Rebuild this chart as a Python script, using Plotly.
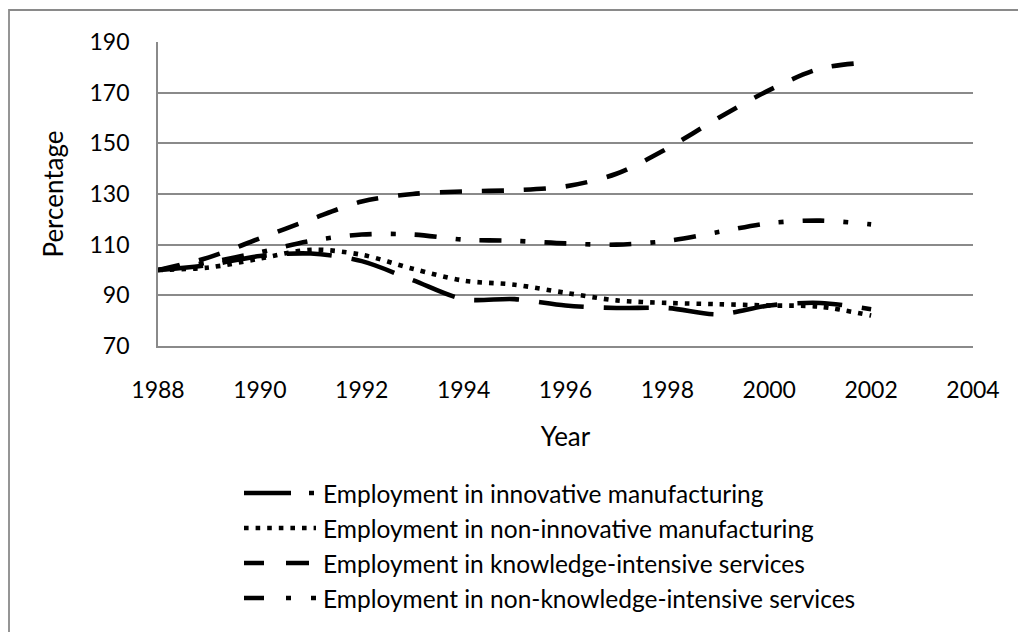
import plotly.graph_objects as go

# ---------------- data ----------------
years = [1988, 1989, 1990, 1991, 1992, 1993, 1994, 1995, 1996, 1997, 1998, 1999, 2000, 2001, 2002]
innovative_mfg = [100, 102, 105.5, 106.5, 103.5, 96, 88.5, 88.5, 86, 85, 85, 82.5, 86, 87, 84.5]
non_innovative_mfg = [100, 101, 104.5, 108, 106, 100.5, 95.8, 94.2, 91, 88, 87, 86.5, 86, 85.5, 82]
knowledge_services = [100, 105, 112.5, 120, 127, 130, 131, 131.5, 133, 138, 148, 160, 171, 179.5, 182]
non_knowledge_services = [100, 103, 107, 111.5, 114, 114, 112, 111.5, 110.5, 110, 111.5, 115, 118.5, 119.5, 118]

series_names = [
    "Employment in innovative manufacturing",
    "Employment in non-innovative manufacturing",
    "Employment in knowledge-intensive services",
    "Employment in non-knowledge-intensive services",
]
x_ticks = [1988, 1990, 1992, 1994, 1996, 1998, 2000, 2002, 2004]
y_ticks = [70, 90, 110, 130, 150, 170, 190]

# ---------------- styles ----------------
W, H = 1026, 632
OFF = 8  # default body margin of the html page
PL, PR, PT, PB = 158, 973, 42, 346  # plot area in page pixels
FONT = "Lato, Carlito, Calibri, sans-serif"
LW = 4.6
plot_dashes = ["45px,20px", "4.6px,7px", "22px,20px", "22px,19px,5px,19px"]
legend_dashes = ["47px,18px,5px,40px", "4.6px,7px", "20px,22px,23px,40px", "20px,22px,5px,20px,5px,40px"]
all_values = [innovative_mfg, non_innovative_mfg, knowledge_services, non_knowledge_services]

def px_x(p):
    return (p - PL) / (PR - PL)

def px_y(p):
    return (PB - p) / (PB - PT)

fig = go.Figure()
for name, vals, dash in zip(series_names, all_values, plot_dashes):
    fig.add_trace(go.Scatter(
        x=years, y=vals, name=name, mode="lines",
        line=dict(color="black", width=LW, dash=dash, shape="spline", smoothing=0.9),
        showlegend=False,
    ))

grid_col = "#8a8a8a"
FW, FH = W - OFF, H - OFF
fig.update_layout(
    width=FW, height=FH,
    margin=dict(l=PL - OFF, r=FW - (PR - OFF), t=PT - OFF, b=FH - (PB - OFF)),
    paper_bgcolor="white", plot_bgcolor="white",
    font=dict(family=FONT, size=23, color="black"),
    showlegend=False,
    xaxis=dict(
        range=[1988, 2004], tickvals=x_ticks, ticktext=[str(t) for t in x_ticks],
        showgrid=False, zeroline=False, showline=True, linecolor=grid_col, linewidth=1.8,
        ticks="", ticklabelstandoff=22,
        title=dict(text="Year", font=dict(family=FONT, size=26), standoff=26),
    ),
    yaxis=dict(
        range=[70, 190], tickvals=y_ticks, ticktext=[str(t) for t in y_ticks],
        showgrid=True, gridcolor=grid_col, gridwidth=1.8,
        zeroline=False, showline=True, linecolor=grid_col, linewidth=1.8,
        ticks="", ticklabelstandoff=22,
        title=dict(text="Percentage", font=dict(family=FONT, size=26), standoff=18),
    ),
)

# outer chart border (extends beyond right/bottom of the image)
fig.add_shape(type="rect", xref="paper", yref="paper",
              x0=px_x(9), x1=px_x(W + 20), y0=px_y(H + 20), y1=px_y(10),
              line=dict(color="#8a8a8a", width=1.8), fillcolor="rgba(0,0,0,0)", layer="below")

# manual legend
row_y = [493, 528, 563, 598]
for name, ldash, ry in zip(series_names, legend_dashes, row_y):
    fig.add_shape(type="line", xref="paper", yref="paper",
                  x0=px_x(244), x1=px_x(316), y0=px_y(ry), y1=px_y(ry),
                  line=dict(color="black", width=LW, dash=ldash))
    fig.add_annotation(text=name, xref="paper", yref="paper",
                       x=px_x(321), y=px_y(ry), xanchor="left", yanchor="middle",
                       showarrow=False, font=dict(family=FONT, size=24.5, color="black"))

fig.write_html("out.html")
